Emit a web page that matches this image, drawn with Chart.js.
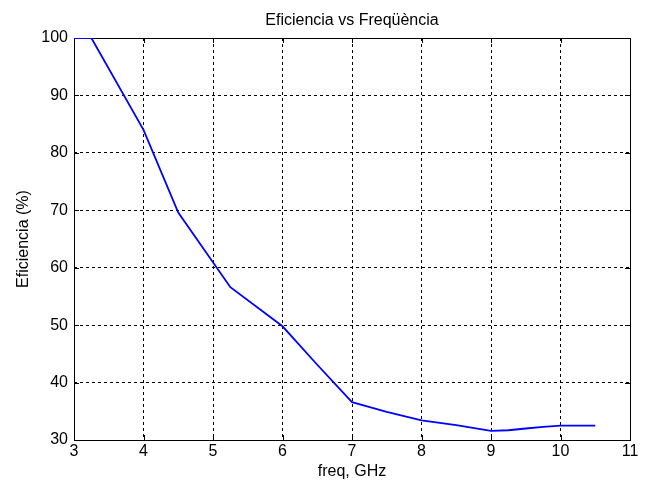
<!DOCTYPE html>
<html>
<head>
<meta charset="utf-8">
<script src="https://cdn.jsdelivr.net/npm/chart.js@4"></script>
<style>
  html, body { margin: 0; padding: 0; background: #ffffff; }
  #wrap { width: 648px; height: 487px; }
</style>
</head>
<body>
<div id="wrap"><canvas id="viz" width="648" height="487"></canvas></div>
<script>
// values
const freqGHz = [3, 3.25, 4, 4.5, 5.25, 6, 6.5, 7, 7.5, 8, 8.5, 9, 9.25, 9.5, 9.75, 10, 10.5];
const efficiency = [100, 100, 84, 69.6, 56.6, 49.8, 43.1, 36.6, 34.9, 33.4, 32.6, 31.6, 31.7, 32.0, 32.3, 32.5, 32.5];

const titleText = 'Eficiencia vs Freqüència';
const xTitle = 'freq, GHz';
const yTitle = 'Eficiencia (%)';

const FONT = "'Liberation Sans', Arial, sans-serif";

// box around the axes plus inward tick marks (matlab style)
const boxPlugin = {
  id: 'boxPlugin',
  beforeDatasetsDraw(chart) {
    const { ctx, chartArea: a, scales } = chart;
    const len = 5;
    ctx.save();
    ctx.strokeStyle = '#000';
    ctx.lineWidth = 1;
    ctx.beginPath();
    scales.x.ticks.forEach(t => {
      const px = Math.round(scales.x.getPixelForValue(t.value)) + 0.5;
      ctx.moveTo(px, a.bottom); ctx.lineTo(px, a.bottom - len);
      ctx.moveTo(px, a.top); ctx.lineTo(px, a.top + len);
    });
    scales.y.ticks.forEach(t => {
      const py = Math.round(scales.y.getPixelForValue(t.value)) + 0.5;
      ctx.moveTo(a.left, py); ctx.lineTo(a.left + len, py);
      ctx.moveTo(a.right, py); ctx.lineTo(a.right - len, py);
    });
    ctx.stroke();
    ctx.strokeRect(Math.round(a.left) + 0.5, Math.round(a.top) + 0.5,
      Math.round(a.right - a.left), Math.round(a.bottom - a.top));
    ctx.restore();
  }
};

const ctx = document.getElementById('viz');

const chart = new Chart(ctx, {
  type: 'line',
  data: {
    datasets: [{
      data: freqGHz.map((f, i) => ({ x: f, y: efficiency[i] })),
      borderColor: '#0000ff',
      borderWidth: 1.8,
      pointRadius: 0,
      tension: 0,
      fill: false
    }]
  },
  options: {
    responsive: false,
    animation: false,
    layout: { padding: { left: 0, right: 18, top: 0, bottom: 0 } },
    plugins: {
      legend: { display: false },
      tooltip: { enabled: false },
      title: { display: false }
    },
    scales: {
      x: {
        type: 'linear',
        min: 3,
        max: 11,
        ticks: {
          stepSize: 1,
          color: '#000',
          padding: 2.4,
          font: { family: FONT, size: 16 }
        },
        grid: {
          color: '#000',
          lineWidth: 1,
          drawTicks: false
        },
        border: { display: false, dash: [3, 3] },
        title: {
          display: true,
          text: xTitle,
          color: '#000',
          font: { family: FONT, size: 16 },
          padding: { top: 0.8, bottom: 5.4 }
        },
        afterFit(s) { s.height = 47; }
      },
      // top axis only carries the chart title so it centres over the plot box
      xTop: {
        type: 'linear',
        position: 'top',
        min: 3,
        max: 11,
        ticks: { display: false },
        grid: { display: false, drawTicks: false },
        border: { display: false },
        title: {
          display: true,
          text: titleText,
          color: '#000',
          font: { family: FONT, size: 16 },
          padding: { top: 11.4, bottom: 7.4 }
        },
        afterFit(s) { s.height = 38; }
      },
      y: {
        type: 'linear',
        min: 30,
        max: 100,
        ticks: {
          stepSize: 10,
          color: '#000',
          padding: 6,
          font: { family: FONT, size: 16 }
        },
        grid: {
          color: '#000',
          lineWidth: 1,
          drawTicks: false
        },
        border: { display: false, dash: [3, 3] },
        title: {
          display: true,
          text: yTitle,
          color: '#000',
          font: { family: FONT, size: 16 },
          padding: { top: 13.9, bottom: 8.2 }
        },
        afterFit(s) { s.width = 74; }
      }
    }
  },
  plugins: [boxPlugin]
});
</script>
</body>
</html>
